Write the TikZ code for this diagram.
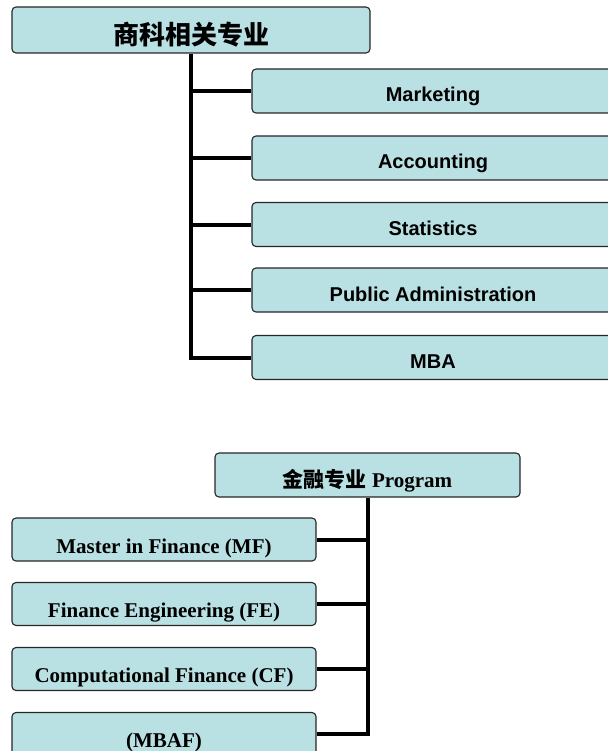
\documentclass[tikz,border=0pt]{standalone}
\usepackage{fontspec}
\setmainfont{Liberation Serif}
\setsansfont{Liberation Sans}
\newfontfamily\cjk{Noto Sans CJK SC}
\definecolor{boxfill}{HTML}{B9E0E3}
\begin{document}
\begin{tikzpicture}[x=1pt,y=-1pt, line join=round, line cap=round,
	box/.style={draw=black!85, line width=1.1pt, fill=boxfill, rounded corners=4pt, inner sep=0pt, text depth=0pt},
	topitem/.style={box, minimum width=362pt, minimum height=44pt, text height=22pt, font=\sffamily\bfseries\fontsize{20}{20}\selectfont},
	botitem/.style={box, minimum width=304pt, minimum height=43pt, text height=27pt, font=\rmfamily\bfseries\fontsize{21}{21}\selectfont},
	link/.style={line width=4pt, line cap=butt, line join=miter}]
				\useasboundingbox (0,0) rectangle (607,751);
				\node[box, minimum width=358pt, minimum height=46pt, text height=29pt, font=\cjk\bfseries\fontsize{26}{26}\selectfont] (bizhead) at (191,30) {商科相关专业};
				\foreach \name/\y/\txt in {mkt/91/{Marketing}, acc/158/{Accounting}, stat/224.5/{Statistics}, pa/290/{Public Administration}, mba/357.5/{MBA}}
					\node[topitem] (\name) at (433,\y) {\txt};
				\draw[link] (bizhead.south) -- (bizhead.south |- mba.west) -- (mba.west);
				\foreach \name in {mkt,acc,stat,pa} \draw[link] (bizhead.south |- \name.west) -- (\name.west);
				\node[box, minimum width=305pt, minimum height=44pt, text height=24pt, font=\rmfamily\bfseries\fontsize{21}{21}\selectfont] (finhead) at (367.5,475) {{\cjk 金融专业} Program};
				\foreach \name/\y/\txt in {mf/539.5/{Master in Finance (MF)}, fe/604/{Finance Engineering (FE)}, cf/669/{Computational Finance (CF)}, mbaf/734/{(MBAF)}}
					\node[botitem] (\name) at (164,\y) {\txt};
				\draw[link] (finhead.south) -- (finhead.south |- mbaf.east) -- (mbaf.east);
				\foreach \name in {mf,fe,cf} \draw[link] (finhead.south |- \name.east) -- (\name.east);
			\end{tikzpicture}
\end{document}
